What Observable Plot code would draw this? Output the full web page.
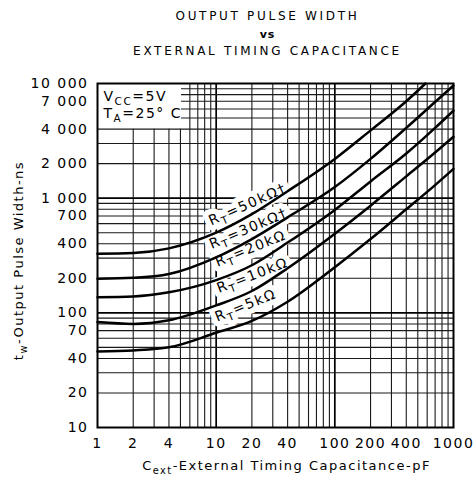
<!DOCTYPE html>
<html><head><meta charset="utf-8">
<script src="https://cdn.jsdelivr.net/npm/d3@7"></script>
<script src="https://cdn.jsdelivr.net/npm/@observablehq/plot@0.6"></script>
<style>
html,body{margin:0;padding:0;background:#fff;}
#chart svg{display:block;background:#fff;}
#chart svg text{letter-spacing:1.5px;}
</style>
</head><body><div id="chart"></div>
<script>
// ---- text ----
const titleLines = ["OUTPUT PULSE WIDTH", "vs", "EXTERNAL TIMING CAPACITANCE"];
const xLabel = "C_{ext}-External Timing Capacitance-pF";
const yLabel = "t_{w}-Output Pulse Width-ns";
const conditions = ["V_{CC}=5V", "T_{A}=25° C"];

// ---- ticks ----
const xTicks = [1, 2, 4, 10, 20, 40, 100, 200, 400, 1000];
const yTicks = [10, 20, 40, 70, 100, 200, 400, 700, 1000, 2000, 4000, 7000, 10000];

// ---- series (Cext in pF, tw in ns) ----
const cap50k = [1, 2, 4, 10, 20, 40, 100, 200, 400, 580];
const tw50k  = [327, 332, 365, 500, 725, 1150, 2200, 3900, 7000, 10000];
const cap30k = [1, 2, 4, 10, 20, 40, 100, 200, 400, 700, 1000];
const tw30k  = [198, 202, 218, 305, 440, 680, 1250, 2200, 4100, 6900, 9600];
const cap20k = [1, 2, 4, 10, 20, 40, 100, 200, 400, 700, 1000];
const tw20k  = [137, 139, 151, 193, 260, 410, 790, 1400, 2450, 4100, 5800];
const cap10k = [1, 2, 4, 10, 20, 40, 100, 200, 400, 700, 1000];
const tw10k  = [83, 80, 86, 116, 155, 245, 490, 860, 1550, 2500, 3430];
const cap5k  = [1, 2, 4, 10, 20, 40, 100, 200, 400, 700, 1000];
const tw5k   = [46, 47, 50, 67, 85, 125, 250, 440, 800, 1300, 1800];

const seriesNames = ["R_{T}=50kΩ†", "R_{T}=30kΩ†", "R_{T}=20kΩ", "R_{T}=10kΩ", "R_{T}=5kΩ"];
const labelCap = [18.4, 18.7, 19.5, 20.2, 17.7];
const labelTw  = [881, 544, 364, 212, 116];
const labelAngle = [-24, -23, -22, -21, -22];

// ---- build tables ----
const series = [
  [cap50k, tw50k], [cap30k, tw30k], [cap20k, tw20k], [cap10k, tw10k], [cap5k, tw5k]
].flatMap(([cs, ts], i) => cs.map((c, j) => ({name: seriesNames[i], c, tw: ts[j]})));
const curveLabels = seriesNames.map((label, i) => ({label, c: labelCap[i], tw: labelTw[i], angle: labelAngle[i]}));

// log-paper grid
const gridX = [], gridY = [];
for (const d of [1, 10, 100]) for (let m = 1; m < 10; m++) gridX.push(m * d);
for (const d of [10, 100, 1000]) for (let m = 1; m < 10; m++) gridY.push(m * d);
const gx = gridX.filter(v => v > 1);
const gy = gridY.filter(v => v > 10);
const isDecade = v => Math.abs(Math.log10(v) - Math.round(Math.log10(v))) < 1e-9;

const fmtY = d => d >= 1000 ? d3.format(",")(d).replace(/,/g, " ") : String(d);

const labelOpts = {x: "c", y: "tw", text: "label", rotate: "angle", fontSize: 14, textAnchor: "middle", lineAnchor: "middle"};

const chart = Plot.plot({
  width: 474,
  height: 478,
  marginLeft: 97,
  marginRight: 21,
  marginTop: 83,
  marginBottom: 51,
  style: {fontFamily: "'DejaVu Sans', sans-serif", fontSize: "13px", background: "#fff", color: "#000"},
  x: {type: "log", domain: [1, 1000], axis: null},
  y: {type: "log", domain: [10, 10000], axis: null},
  marks: [
    // grid (note box in upper-left hides lines)
    Plot.ruleX(gx.filter(v => !isDecade(v)), {x: d => d, y1: () => 10, y2: d => d <= 5 ? 4000 : 10000, stroke: "#1a1a1a", strokeWidth: 1.1}),
    Plot.ruleX(gx.filter(v => isDecade(v)), {x: d => d, y1: () => 10, y2: () => 10000, stroke: "#000", strokeWidth: 1.7}),
    Plot.ruleY(gy.filter(v => !isDecade(v)), {y: d => d, x1: d => d > 4000 ? 5.1 : 1, x2: () => 1000, stroke: "#1a1a1a", strokeWidth: 1.1}),
    Plot.ruleY(gy.filter(v => isDecade(v)), {y: d => d, x1: () => 1, x2: () => 1000, stroke: "#000", strokeWidth: 1.7}),
    // curve labels: white band, then text
    Plot.text(curveLabels, {...labelOpts, fill: "#fff", stroke: "#fff", strokeWidth: 11, strokeLinejoin: "round"}),
    Plot.text(curveLabels, {...labelOpts, fill: "#000"}),
    // curves
    Plot.line(series, {x: "c", y: "tw", z: "name", stroke: "#000", strokeWidth: 2.5, curve: "monotone-x"}),
    Plot.frame({stroke: "#000", strokeWidth: 2}),
    // tick labels
    Plot.text(xTicks, {x: d => d, text: d => String(d), frameAnchor: "bottom", dy: 16, textAnchor: "middle", lineAnchor: "middle", fontSize: 14}),
    Plot.text(yTicks, {y: d => d, text: d => fmtY(d), frameAnchor: "left", dx: -9, textAnchor: "end", lineAnchor: "middle", fontSize: 14}),
    // conditions
    Plot.text([conditions[0]], {frameAnchor: "top-left", dx: 6, dy: 13, textAnchor: "start", lineAnchor: "middle", fontSize: 14}),
    Plot.text([conditions[1]], {frameAnchor: "top-left", dx: 6, dy: 30, textAnchor: "start", lineAnchor: "middle", fontSize: 14}),
    // axis labels
    Plot.text([xLabel], {frameAnchor: "bottom", dx: 11, dy: 38, textAnchor: "middle", lineAnchor: "middle", fontSize: 13}),
    Plot.text([yLabel], {frameAnchor: "left", dx: -79, dy: 5, rotate: -90, textAnchor: "middle", lineAnchor: "middle", fontSize: 13}),
    // title
    Plot.text([titleLines[0]], {frameAnchor: "top", dx: -8, dy: -67, textAnchor: "middle", lineAnchor: "middle", fontSize: 12}),
    Plot.text([titleLines[1]], {frameAnchor: "top", dx: -8, dy: -49, textAnchor: "middle", lineAnchor: "middle", fontSize: 11, fontWeight: "bold"}),
    Plot.text([titleLines[2]], {frameAnchor: "top", dx: -8, dy: -32, textAnchor: "middle", lineAnchor: "middle", fontSize: 12})
  ]
});

// subscripts and title spacing
const NS = "http://www.w3.org/2000/svg";
chart.querySelectorAll("text").forEach(t => {
  const s = t.textContent;
  if (titleLines.includes(s)) { t.style.letterSpacing = s === "vs" ? "1px" : "2.7px"; return; }
  if (!s.includes("_{")) return;
  t.textContent = "";
  const re = /_\{([^}]*)\}/g;
  let last = 0, m, shifted = false;
  const add = (str, sub) => {
    const ts = document.createElementNS(NS, "tspan");
    ts.textContent = str;
    if (sub) { ts.setAttribute("font-size", "75%"); ts.setAttribute("dy", "4"); shifted = true; }
    else if (shifted) { ts.setAttribute("dy", "-4"); shifted = false; }
    t.appendChild(ts);
  };
  while ((m = re.exec(s))) {
    if (m.index > last) add(s.slice(last, m.index), false);
    add(m[1], true);
    last = re.lastIndex;
  }
  if (last < s.length) add(s.slice(last), false);
});

document.getElementById("chart").appendChild(chart);
</script>
</body></html>
